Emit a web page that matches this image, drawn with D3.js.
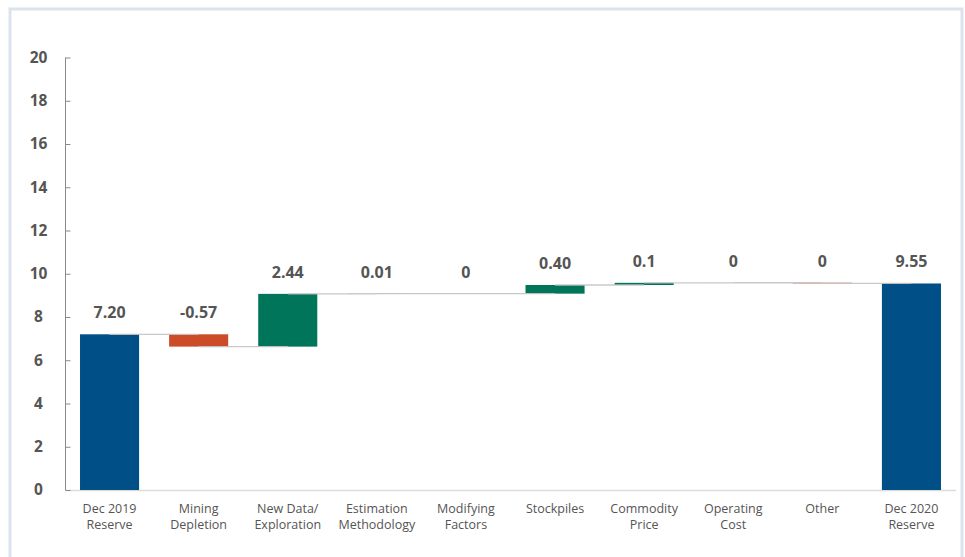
<!DOCTYPE html>
<html><head><meta charset="utf-8">
<script src="https://cdn.jsdelivr.net/npm/d3@7/dist/d3.min.js"></script>
<style>body{margin:0;background:#fff}svg{display:block}</style>
</head><body><svg id="c" width="965" height="557"></svg>
<script>
const categories = [["Dec 2019","Reserve"],["Mining","Depletion"],["New Data/","Exploration"],["Estimation","Methodology"],["Modifying","Factors"],["Stockpiles"],["Commodity","Price"],["Operating","Cost"],["Other"],["Dec 2020","Reserve"]];
const values = [7.20, -0.57, 2.44, 0.01, 0, 0.40, 0.1, 0.004, -0.03, 9.55];
const valueLabels = ["7.20","-0.57","2.44","0.01","0","0.40","0.1","0","0","9.55"];
const isTotal = [true,false,false,false,false,false,false,false,false,true];
const yTicks = [0,2,4,6,8,10,12,14,16,18,20];

const svg = d3.select("#c");
const font = "'Open Sans', 'Noto Sans', sans-serif";
svg.append("rect").attr("x",10).attr("y",9).attr("width",952).attr("height",560)
  .attr("fill","none").attr("stroke","#dde3ec").attr("stroke-width",3);

const x = d3.scaleBand().domain(d3.range(categories.length)).range([65,956])
  .paddingInner(0.337).paddingOuter(0.1685);
const y = d3.scaleLinear().domain([0,20]).range([490,57.5]);

let run = 0;
const bars = values.map((v,i)=>{
  let s,e;
  if(isTotal[i]){ s=0; e=v; run=v; }
  else { s=run; e=run+v; run=e; }
  return {i,v,s,e,total:isTotal[i]};
});
const color = d => d.total ? "#005087" : (d.v < 0 ? "#cc4b29" : (d.v>0.005? "#00755a" : "#6fa89a"));

svg.append("line").attr("x1",65).attr("x2",956).attr("y1",y(0)+0.5).attr("y2",y(0)+0.5)
  .attr("stroke","#dcdcdc").attr("stroke-width",1.5);

svg.selectAll("rect.bar").data(bars).join("rect").attr("class","bar")
  .attr("x",d=>x(d.i)).attr("width",x.bandwidth())
  .attr("y",d=>y(Math.max(d.s,d.e))).attr("height",d=>Math.abs(y(d.s)-y(d.e)))
  .attr("fill",color);

const conn = bars.slice(0,-1).map(d=>({x1:x(d.i)+x.bandwidth()/2, x2:x(d.i+1)+x.bandwidth()/2, v:d.e}));
svg.selectAll("line.conn").data(conn).join("line").attr("class","conn")
  .attr("x1",d=>d.x1).attr("x2",d=>d.x2).attr("y1",d=>y(d.v)).attr("y2",d=>y(d.v))
  .attr("stroke","#c4c4c4").attr("stroke-width",1.3).attr("opacity",0.9);

const yAxis = d3.axisLeft(y).tickValues(yTicks).tickSize(-5).tickPadding(22).tickFormat(d3.format("d"));
const ga = svg.append("g").attr("transform","translate(65.5,0)").call(yAxis);
ga.select(".domain").attr("stroke","#8a8a8a").attr("d","M0,"+y(20)+"V"+y(0));
ga.selectAll(".tick line").attr("stroke","#8a8a8a");
ga.selectAll(".tick text").attr("fill","#555").attr("font-family",font).attr("font-size",15.5)
  .attr("font-weight","bold").attr("text-anchor","middle").attr("dx",-5);

svg.selectAll("text.val").data(bars).join("text").attr("class","val")
  .attr("x",d=>x(d.i)+x.bandwidth()/2).attr("y",d=>y(Math.max(d.s,d.e))-16)
  .attr("text-anchor","middle").attr("font-family",font).attr("font-size",16)
  .attr("font-weight","bold").attr("fill","#555").text((d,i)=>valueLabels[i]);

const cl = svg.selectAll("text.cat").data(categories).join("text").attr("class","cat")
  .attr("x",(d,i)=>x(i)+x.bandwidth()/2).attr("y",513)
  .attr("text-anchor","middle").attr("font-family",font).attr("font-size",12.5).attr("fill","#555");
cl.selectAll("tspan").data(d=>d).join("tspan").attr("x",function(){return this.parentNode.getAttribute("x");})
  .attr("dy",(d,i)=>i===0?0:16).text(d=>d);
</script></body></html>
